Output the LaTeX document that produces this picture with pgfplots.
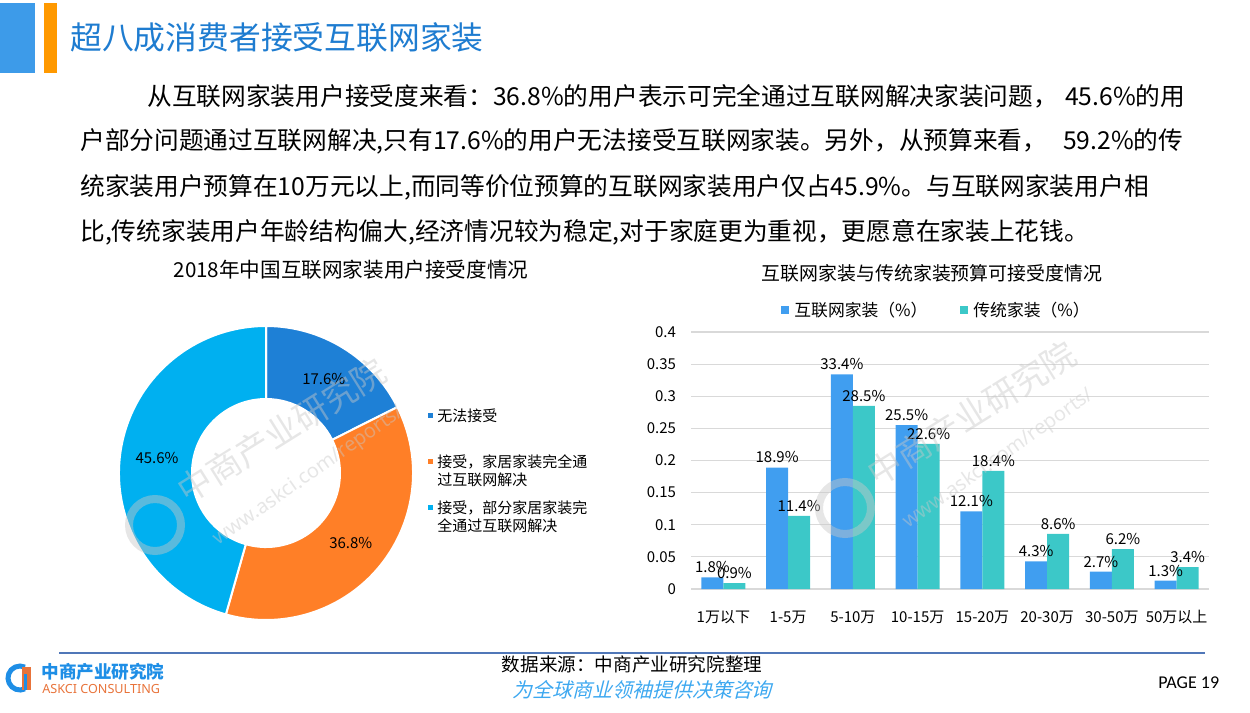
\documentclass[border=0pt]{standalone}
\usepackage{pgfplots}
\pgfplotsset{compat=1.18}
\usepackage{pgfplotstable}
\usepackage{fontspec}
\setmainfont{Noto Sans CJK SC}
\newfontfamily\cjkit[FakeSlant=0.25]{Noto Sans CJK SC}
\newfontfamily\carlito{Carlito}
\newfontfamily\notosans{Noto Sans}
\XeTeXlinebreaklocale "zh"
\XeTeXlinebreakskip=0pt plus 1fil

\definecolor{rectblue}{RGB}{61,155,233}
\definecolor{rectorange}{RGB}{255,153,0}
\definecolor{titleblue}{RGB}{30,124,208}
\definecolor{donut0}{RGB}{30,128,214}
\definecolor{donut1}{RGB}{255,127,39}
\definecolor{donut2}{RGB}{0,176,240}
\definecolor{barblue}{RGB}{64,158,240}
\definecolor{barteal}{RGB}{60,200,200}
\definecolor{gridgray}{RGB}{217,217,217}
\definecolor{footline}{RGB}{80,119,184}
\definecolor{logoblue}{RGB}{30,142,230}
\definecolor{logoorange}{RGB}{232,115,58}
\definecolor{sloganblue}{RGB}{61,168,240}
\definecolor{wmgray}{RGB}{200,200,200}

\newcommand\fs[1]{\fontsize{#1}{#1}\selectfont}

% donut: share of users (%)
\pgfplotstableread{
part value
0 17.6
1 36.8
2 45.6
}\donutdata

% budget acceptance (%)
\pgfplotstableread{
x net trad
0 1.8 0.9
1 18.9 11.4
2 33.4 28.5
3 25.5 22.6
4 12.1 18.4
5 4.3 8.6
6 2.7 6.2
7 1.3 3.4
}\bardata

% start / end / mid angles of the donut slices, clockwise from 12 o'clock
\def\cum{0}
\pgfplotstableforeachcolumnelement{value}\of\donutdata\as\val{%
  \pgfmathsetmacro\sA{90-3.6*\cum}%
  \pgfmathsetmacro\sB{90-3.6*(\cum+\val)}%
  \pgfmathsetmacro\sM{(\sA+\sB)/2}%
  \expandafter\xdef\csname dS\pgfplotstablerow\endcsname{\sA}%
  \expandafter\xdef\csname dE\pgfplotstablerow\endcsname{\sB}%
  \expandafter\xdef\csname dM\pgfplotstablerow\endcsname{\sM}%
  \expandafter\xdef\csname dV\pgfplotstablerow\endcsname{\val}%
  \pgfmathsetmacro\newcum{\cum+\val}%
  \xdef\cum{\newcum}%
}

\begin{document}
\begin{tikzpicture}
% pixel grid of the slide: 1 px = 0.5pt, y downwards
\begin{scope}[x=0.5pt,y=-0.5pt]
\path[use as bounding box] (0,0) rectangle (1250,713);

% header
\fill[rectblue] (0,3) rectangle (35,73);
\fill[rectorange] (44,3) rectangle (57,73);
\node[anchor=west, inner sep=0, text=titleblue, font=\fs{15.9}] at (70,37) {超八成消费者接受互联网家装};

% paragraph
\begin{scope}[every node/.style={anchor=west, inner sep=0, font=\fs{12.35}}]
\node at (147,96) {\makebox[519pt][s]{从互联网家装用户接受度来看：36.8\%的用户表示可完全通过互联网解决家装问题，\ 45.6\%的用}};
\node at (80,141) {\makebox[551.5pt][s]{户部分问题通过互联网解决,只有17.6\%的用户无法接受互联网家装。另外，从预算来看，\ 59.2\%的传}};
\node at (80,187) {\makebox[541.5pt][s]{统家装用户预算在10万元以上,而同等价位预算的互联网家装用户仅占45.9\%。与互联网家装用户相}};
\node at (80,232) {\makebox[518pt][s]{比,传统家装用户年龄结构偏大,经济情况较为稳定,对于家庭更为重视，更愿意在家装上花钱。}};
\end{scope}

% titles and legends
\node[font=\fs{10.3}] at (351,270) {2018年中国互联网家装用户接受度情况};
\begin{scope}[every node/.style={anchor=north west, inner sep=0, align=left, font=\fontsize{7.5}{9}\selectfont}]
\fill[donut0] (428,413) rectangle (433,418);
\node at (437,408) {无法接受};
\fill[donut1] (428,459) rectangle (433,464);
\node at (437,454) {接受，家居家装完全通\\过互联网解决};
\fill[donut2] (428,505) rectangle (433,510);
\node at (437,500) {接受，部分家居家装完\\全通过互联网解决};
\end{scope}

\node[font=\fs{9.45}] at (932,273) {互联网家装与传统家装预算可接受度情况};
\fill[barblue] (781,306) rectangle (789,314);
\node[anchor=west, inner sep=0, font=\fs{8.4}] at (794,310) {互联网家装（\%）};
\fill[barteal] (960,306) rectangle (968,314);
\node[anchor=west, inner sep=0, font=\fs{8.4}] at (973,310) {传统家装（\%）};

% footer
\draw[footline, line width=0.75pt] (59,653) -- (1205,653);
\draw[logoblue, line width=2.5pt] ([shift={(20,678)}]65:12) arc[start angle=65, end angle=295, radius=12];
\fill[logoorange] (22,667) rectangle (31,690);
\fill[logoblue] (24,674) rectangle (27,690);
\node[anchor=west, inner sep=0, text=logoblue, font=\fs{8.8}\bfseries] at (41,672) {中商产业研究院};
\node[anchor=west, inner sep=0, text=logoorange, font=\notosans\fs{6.3}] at (42,689) {ASKCI CONSULTING};
\node[font=\fs{9.3}] at (632,664) {数据来源：中商产业研究院整理};
\node[text=sloganblue, font=\cjkit\fs{10}] at (642,690) {为全球商业领袖提供决策咨询};
\node[anchor=west, inner sep=0, font=\carlito\fs{9}] at (1158,683) {PAGE 19};
\end{scope}

% donut chart, centre at px (266,473)
\begin{axis}[
  at={(133pt,-236.5pt)}, anchor=center,
  scale only axis, width=147pt, height=147pt,
  xmin=-147, xmax=147, ymin=-147, ymax=147,
  hide axis, clip=false,
]
\pgfplotsinvokeforeach{0,1,2}{
  \fill[fill=donut#1, draw=white, line width=1pt]
    (axis cs:{147*cos(\csname dS#1\endcsname)},{147*sin(\csname dS#1\endcsname)})
    arc[start angle=\csname dS#1\endcsname, end angle=\csname dE#1\endcsname, radius=147]
    -- (axis cs:{74*cos(\csname dE#1\endcsname)},{74*sin(\csname dE#1\endcsname)})
    arc[start angle=\csname dE#1\endcsname, end angle=\csname dS#1\endcsname, radius=74]
    -- cycle;
  \node[font=\fs{7.5}] at (axis cs:{110*cos(\csname dM#1\endcsname)},{110*sin(\csname dM#1\endcsname)})
    {\pgfmathprintnumber[fixed,fixed zerofill,precision=1,assume math mode=true]{\csname dV#1\endcsname}\%};
}
\end{axis}

% bar chart, plot area from px (691,332) to (1209,589)
\begin{axis}[
  at={(345.5pt,-294.5pt)}, anchor=south west,
  scale only axis, width=259pt, height=128.5pt,
  ybar=0pt, bar width=11pt,
  xmin=-0.5, xmax=7.5, ymin=0, ymax=40,
  xtick={0,...,7},
  xticklabels={1万以下,1-5万,5-10万,10-15万,15-20万,20-30万,30-50万,50万以上},
  ytick={0,5,...,40},
  yticklabels={0,0.05,0.1,0.15,0.2,0.25,0.3,0.35,0.4},
  ymajorgrids, grid style={draw=gridgray, line width=0.6pt},
  axis line style={draw=none}, major tick style={draw=none},
  tick label style={font=\fs{7.5}},
  xticklabel style={yshift=-3pt},
  yticklabel style={xshift=-4pt},
  /pgf/number format/assume math mode=true,
  point meta=y,
  nodes near coords={\pgfmathprintnumber[fixed,fixed zerofill,precision=1]{\pgfplotspointmeta}\%},
  nodes near coords style={font=\fs{7.5}, inner sep=2pt, text=black},
  clip=false,
]
\addplot[fill=barblue, draw=none] table[x=x, y=net] {\bardata};
\addplot[fill=barteal, draw=none] table[x=x, y=trad] {\bardata};
\end{axis}

% faint watermarks
\begin{scope}[x=0.5pt,y=-0.5pt, opacity=0.45]
\foreach \wx/\wy in {155/525, 845/508}{
  \draw[wmgray, line width=4pt] (\wx,\wy) circle[radius=26];
  \node[text=wmgray, rotate=32, anchor=west, font=\fs{17}] at (\wx+20,\wy-28) {中商产业研究院};
  \node[text=wmgray, rotate=35, anchor=west, font=\notosans\fs{10}] at (\wx+55,\wy+20) {www.askci.com/reports/};
}
\end{scope}
\end{tikzpicture}
\end{document}
